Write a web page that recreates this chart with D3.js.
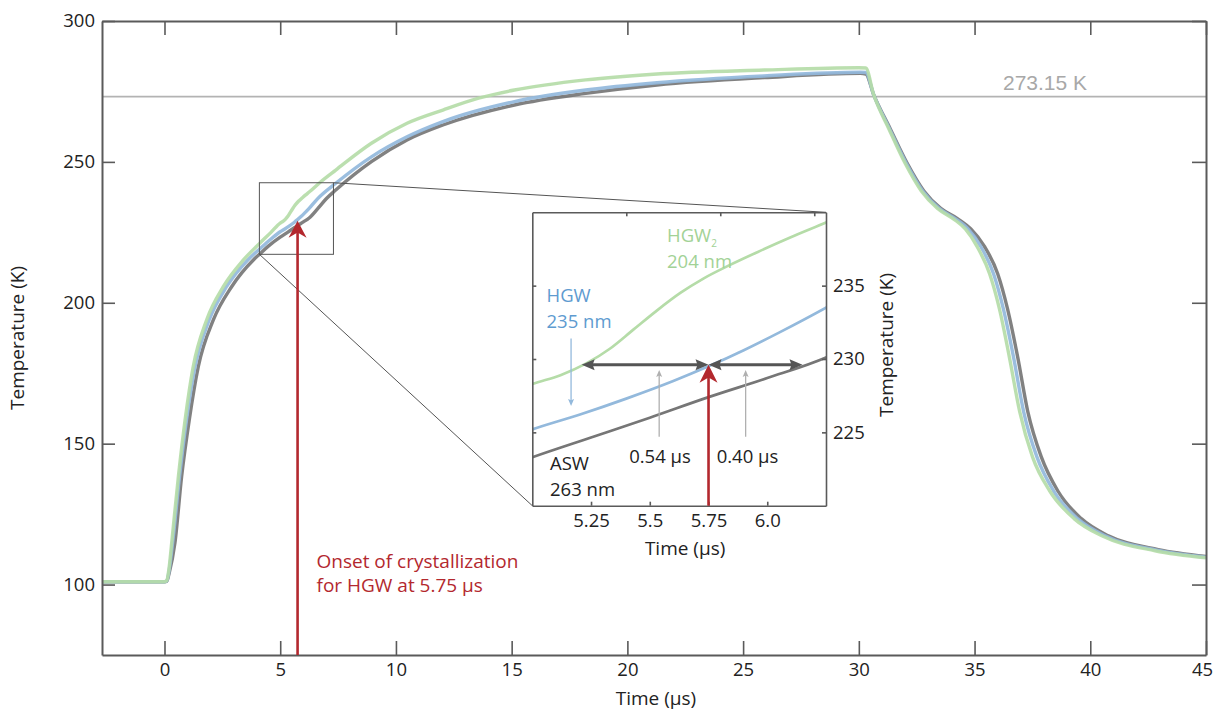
<!DOCTYPE html>
<html><head><meta charset="utf-8">
<script src="https://cdn.jsdelivr.net/npm/d3@7"></script>
<style>
body{margin:0;background:#fff;}
svg{display:block;}
text{font-family:"Open Sans","Noto Sans",sans-serif;}
</style>
</head><body>
<svg id="chart" width="1215" height="713"></svg>
<script>
// ---------------- DATA ----------------
const hgw2Time = [-2.7, 0.0, 0.1, 0.2, 0.31, 0.6, 0.89, 1.24, 1.82, 2.54, 3.41, 4.1, 4.6, 5.0, 5.12, 5.23, 5.33, 5.43, 5.53, 5.63, 5.73, 5.84, 5.96, 6.1, 6.25, 6.73, 7.4, 8.94, 10.48, 12.03, 13.57, 15.12, 18.2, 21.28, 25.9, 30.0, 30.3, 30.64, 31.3, 32.0, 32.7, 33.4, 34.1, 34.6, 35.1, 35.65, 36.07, 36.5, 36.95, 37.5, 38.25, 39.3, 40.5, 42.8, 45];
const hgw2Temp = [101, 101, 101.5, 106, 114.7, 138.3, 158.4, 177.3, 193.9, 205.7, 215.2, 221.0, 225.0, 228.3, 228.9, 229.7, 230.7, 232.0, 233.3, 234.5, 235.5, 236.4, 237.3, 238.3, 239.3, 242.8, 247.1, 256.6, 263.7, 268.4, 272.6, 275.5, 279.1, 281.2, 282.6, 283.4, 283.3, 273.9, 261.7, 249.5, 239.7, 233.5, 229.7, 226.2, 220.1, 210.3, 198.0, 180.9, 161.4, 145.4, 133.2, 123.4, 117.3, 112.0, 109.5];

const hgwTime = [-2.7, 0.0, 0.1, 0.2, 0.35, 0.65, 0.95, 1.32, 1.93, 2.68, 3.6, 4.1, 4.5, 5.0, 5.2, 5.4, 5.6, 5.75, 5.9, 6.05, 6.25, 6.6, 7.4, 8.94, 10.48, 12.03, 15.12, 18.2, 21.28, 25.9, 30.06, 30.3, 30.64, 31.33, 32.05, 32.76, 33.47, 34.18, 34.72, 35.26, 35.82, 36.24, 36.68, 37.12, 37.69, 38.42, 39.45, 40.64, 42.87, 45];
const hgwTemp = [101, 101, 101.3, 105, 114.7, 138.3, 158.4, 177.3, 193.9, 205.7, 215.2, 219.0, 221.9, 225.2, 226.2, 227.3, 228.5, 229.5, 230.6, 231.8, 233.5, 236.8, 242.4, 251.8, 258.9, 264.3, 271.4, 275.5, 278.1, 280.5, 281.8, 281.7, 273.9, 261.7, 249.5, 239.7, 233.5, 229.8, 226.2, 220.1, 210.3, 198.0, 180.9, 161.4, 145.4, 133.2, 123.4, 117.3, 112.2, 109.7];

const aswTime = [-2.7, 0.0, 0.1, 0.2, 0.45, 0.74, 1.07, 1.46, 2.11, 2.9, 3.84, 4.1, 4.5, 5.0, 5.25, 5.5, 5.75, 6.0, 6.25, 6.63, 7.0, 7.4, 8.94, 10.48, 12.03, 15.12, 18.2, 21.28, 25.9, 30.06, 30.3, 30.64, 31.36, 32.09, 32.81, 33.54, 34.26, 34.84, 35.42, 36.0, 36.42, 36.86, 37.3, 37.88, 38.6, 39.61, 40.78, 42.94, 45];
const aswTemp = [101, 101, 101.2, 104, 114.7, 138.3, 158.4, 177.3, 193.9, 205.7, 215.2, 217.2, 220.2, 223.3, 224.65, 226.0, 227.4, 228.7, 230.1, 233.5, 237.0, 240.0, 250.1, 257.8, 263.1, 270.2, 274.3, 277.3, 279.9, 281.4, 281.2, 273.9, 261.7, 249.5, 239.7, 233.5, 229.9, 226.2, 220.1, 210.3, 198.0, 180.9, 161.4, 145.4, 133.2, 123.4, 117.3, 112.4, 110.0];

const seriesNames = ["ASW", "HGW", "HGW2"];
const mainXTicks = [0, 5, 10, 15, 20, 25, 30, 35, 40, 45];
const mainYTicks = [100, 150, 200, 250, 300];
const insetXTicks = [5.25, 5.5, 5.75, 6.0];
const insetXTickLabels = ["5.25", "5.5", "5.75", "6.0"];
const insetTopTicks = [5.4, 5.8, 6.2];
const insetYTicks = [225, 230, 235];
const meltingPoint = 273.15;
const onsetTime = 5.75;
const onsetTemp = 229.5;
const leftSpan = [5.21, 5.75];
const rightSpan = [5.75, 6.15];
const spanTemp = 229.6;
const zoomBox = {t0: 4.1, t1: 7.3, T0: 217.2, T1: 242.6};

// ---------------- SETUP ----------------
const colors = {HGW2: "#b5dca8", HGW: "#93b9dc", ASW: "#767676"};
const textColors = {HGW2: "#a2d296", HGW: "#5e9bd0", ASW: "#222"};
const red = "#b3282e";
const axisColor = "#5a5a5a";
const FONT = '"Open Sans","Noto Sans",sans-serif';
const svg = d3.select("#chart");

const M = {left: 102, right: 1206, top: 21, bottom: 655};
const x = d3.scaleLinear().domain([-2.7, 45]).range([M.left, M.right]);
const y = d3.scaleLinear().domain([75, 300]).range([M.bottom, M.top]);

const I = {left: 532.3, right: 826, top: 212.3, bottom: 505.7};
const ix = d3.scaleLinear().domain([5.0, 6.25]).range([I.left, I.right]);
const iy = d3.scaleLinear().domain([220, 240]).range([I.bottom, I.top]);

const series = {
  HGW2: hgw2Time.map((t, i) => [t, hgw2Temp[i]]),
  HGW: hgwTime.map((t, i) => [t, hgwTemp[i]]),
  ASW: aswTime.map((t, i) => [t, aswTemp[i]])
};

function styleAxis(g, fs) {
  g.selectAll(".domain").attr("stroke", axisColor).attr("stroke-width", 2);
  g.selectAll(".tick line").attr("stroke", axisColor).attr("stroke-width", 1.6);
  g.selectAll(".tick text").attr("fill", "#222").style("font-size", fs + "px").style("font-family", FONT);
}

// melting line
svg.append("line").attr("x1", x(-2.7)).attr("x2", x(45))
  .attr("y1", y(meltingPoint)).attr("y2", y(meltingPoint))
  .attr("stroke", "#b3b3b3").attr("stroke-width", 1.6);
svg.append("text").attr("x", 1045).attr("y", y(meltingPoint) - 6.5)
  .attr("text-anchor", "middle").attr("fill", "#a8a8a8")
  .style("font-family", '"Liberation Sans",Arial,sans-serif').style("font-size", "21px")
  .text("273.15 K");

// main curves
const line = d3.line().x(d => x(d[0])).y(d => y(d[1])).curve(d3.curveMonotoneX);
const drawOrder = ["ASW", "HGW", "HGW2"];
drawOrder.forEach(k => {
  svg.append("path").datum(series[k]).attr("d", line)
    .attr("fill", "none").attr("stroke", colors[k]).attr("stroke-width", 3.4)
    .attr("stroke-linejoin", "round").attr("stroke-opacity", 0.92);
});

// main axes
const gB = svg.append("g").attr("transform", `translate(0,${M.bottom})`)
  .call(d3.axisBottom(x).tickValues(mainXTicks).tickSizeInner(-14).tickSizeOuter(0).tickPadding(8));
styleAxis(gB, 18.5);
gB.selectAll(".tick text").filter(d => d === 45).attr("dx", -4);
const gL = svg.append("g").attr("transform", `translate(${M.left},0)`)
  .call(d3.axisLeft(y).tickValues(mainYTicks).tickSizeInner(-13).tickSizeOuter(0).tickPadding(7));
styleAxis(gL, 18.5);
const gT = svg.append("g").attr("transform", `translate(0,${M.top})`)
  .call(d3.axisTop(x).tickValues(mainXTicks).tickSizeInner(-14).tickSizeOuter(0).tickFormat(""));
styleAxis(gT, 18);
const gR = svg.append("g").attr("transform", `translate(${M.right},0)`)
  .call(d3.axisRight(y).tickValues(mainYTicks).tickSizeInner(-14).tickSizeOuter(0).tickFormat(""));
styleAxis(gR, 18);

svg.append("text").attr("transform", `translate(24,${(M.top + M.bottom) / 2}) rotate(-90)`)
  .attr("text-anchor", "middle").attr("fill", "#222").style("font-size", "19px").text("Temperature (K)");
svg.append("text").attr("x", 656).attr("y", 705).attr("text-anchor", "middle")
  .attr("fill", "#222").style("font-size", "19px").text("Time (µs)");

// zoom box + connectors
svg.append("rect").attr("x", x(zoomBox.t0)).attr("y", y(zoomBox.T1))
  .attr("width", x(zoomBox.t1) - x(zoomBox.t0)).attr("height", y(zoomBox.T0) - y(zoomBox.T1))
  .attr("fill", "none").attr("stroke", "#555").attr("stroke-width", 1);
svg.append("line").attr("x1", x(zoomBox.t1)).attr("y1", y(zoomBox.T1)).attr("x2", I.right).attr("y2", I.top)
  .attr("stroke", "#555").attr("stroke-width", 1);
svg.append("line").attr("x1", x(zoomBox.t0)).attr("y1", y(zoomBox.T0)).attr("x2", I.left).attr("y2", I.bottom)
  .attr("stroke", "#555").attr("stroke-width", 1);

// arrowhead helper (tip at (tx,ty), pointing in direction dir)
function arrowHead(g, tx, ty, dir, len, wid, color, notch) {
  const a = Math.atan2(dir[1], dir[0]);
  const pts = [[0, 0], [-len, -wid / 2], [-len * (1 - notch), 0], [-len, wid / 2]];
  const p = pts.map(([u, v]) => [tx + u * Math.cos(a) - v * Math.sin(a), ty + u * Math.sin(a) + v * Math.cos(a)]);
  g.append("path").attr("d", "M" + p.map(q => q.join(",")).join("L") + "Z").attr("fill", color);
}

// red arrow main
svg.append("line").attr("x1", x(onsetTime)).attr("x2", x(onsetTime))
  .attr("y1", M.bottom).attr("y2", y(onsetTemp) + 8)
  .attr("stroke", red).attr("stroke-width", 2.6);
arrowHead(svg, x(onsetTime), y(onsetTemp) + 1, [0, -1], 17, 18, red, 0.3);

svg.append("text").attr("x", 316.5).attr("y", 568).attr("fill", red).style("font-size", "19px")
  .text("Onset of crystallization");
svg.append("text").attr("x", 316.5).attr("y", 592).attr("fill", red).style("font-size", "19px")
  .text("for HGW at 5.75 µs");

// ---------------- INSET ----------------
const ins = svg.append("g");
ins.append("rect").attr("x", I.left).attr("y", I.top).attr("width", I.right - I.left)
  .attr("height", I.bottom - I.top).attr("fill", "#fff");
svg.append("defs").append("clipPath").attr("id", "insetClip").append("rect")
  .attr("x", I.left).attr("y", I.top).attr("width", I.right - I.left).attr("height", I.bottom - I.top);

const iline = d3.line().x(d => ix(d[0])).y(d => iy(d[1])).curve(d3.curveMonotoneX);
const ic = ins.append("g").attr("clip-path", "url(#insetClip)");
drawOrder.forEach(k => {
  ic.append("path").datum(series[k].filter(d => d[0] >= 4.0 && d[0] <= 7.5)).attr("d", iline)
    .attr("fill", "none").attr("stroke", colors[k]).attr("stroke-width", 2.7);
});

// inset axes
const iB = ins.append("g").attr("transform", `translate(0,${I.bottom})`)
  .call(d3.axisBottom(ix).tickValues(insetXTicks).tickFormat((d, i) => insetXTickLabels[i])
    .tickSizeInner(-4).tickSizeOuter(0).tickPadding(8));
styleAxis(iB, 18.5);
const iT = ins.append("g").attr("transform", `translate(0,${I.top})`)
  .call(d3.axisTop(ix).tickValues(insetTopTicks).tickSizeInner(-4).tickSizeOuter(0).tickFormat(""));
styleAxis(iT, 17);
const iL = ins.append("g").attr("transform", `translate(${I.left},0)`)
  .call(d3.axisLeft(iy).tickValues(insetYTicks).tickSizeInner(-4).tickSizeOuter(0).tickFormat(""));
styleAxis(iL, 17);
const iR = ins.append("g").attr("transform", `translate(${I.right},0)`)
  .call(d3.axisRight(iy).tickValues(insetYTicks).tickSizeInner(-4).tickSizeOuter(0).tickPadding(7));
styleAxis(iR, 18.5);
[iB, iT, iL, iR].forEach(g => g.selectAll(".domain").attr("stroke-width", 1.6));

ins.append("text").attr("x", (I.left + I.right) / 2 + 6).attr("y", 555).attr("text-anchor", "middle")
  .attr("fill", "#222").style("font-size", "19px").text("Time (µs)");
ins.append("text").attr("transform", `translate(893,345) rotate(-90)`).attr("text-anchor", "middle")
  .attr("fill", "#222").style("font-size", "19px").text("Temperature (K)");

// double arrows
const darkArrow = "#555";
[leftSpan, rightSpan].forEach(sp => {
  const x0 = ix(sp[0]), x1 = ix(sp[1]), yy = iy(spanTemp);
  ins.append("line").attr("x1", x0 + 8).attr("x2", x1 - 8).attr("y1", yy).attr("y2", yy)
    .attr("stroke", darkArrow).attr("stroke-width", 3);
  arrowHead(ins, x0, yy, [-1, 0], 13, 11, darkArrow, 0.15);
  arrowHead(ins, x1, yy, [1, 0], 13, 11, darkArrow, 0.15);
});

// red arrow inset
ins.append("line").attr("x1", ix(onsetTime)).attr("x2", ix(onsetTime))
  .attr("y1", I.bottom).attr("y2", iy(spanTemp) + 12)
  .attr("stroke", red).attr("stroke-width", 2.6);
arrowHead(ins, ix(onsetTime), iy(spanTemp), [0, -1], 18, 18, red, 0.3);

// grey pointer arrows
const pointerTimes = [5.54, 5.908];
pointerTimes.forEach(t => {
  ins.append("line").attr("x1", ix(t)).attr("x2", ix(t)).attr("y1", iy(224.7)).attr("y2", iy(229.25) + 5)
    .attr("stroke", "#b0b0b0").attr("stroke-width", 1.3);
  arrowHead(ins, ix(t), iy(229.25), [0, -1], 7, 6, "#b0b0b0", 0.2);
});
// blue pointer
ins.append("line").attr("x1", ix(5.165)).attr("x2", ix(5.165)).attr("y1", iy(231.4)).attr("y2", iy(226.8) - 5)
  .attr("stroke", colors.HGW).attr("stroke-width", 1.3);
arrowHead(ins, ix(5.165), iy(226.8), [0, 1], 7, 6, colors.HGW, 0.2);

// inset labels
const lfs = "18.5px";
const g2 = ins.append("text").attr("x", 667).attr("y", 241.7).attr("fill", textColors.HGW2).style("font-size", lfs);
g2.append("tspan").text("HGW");
g2.append("tspan").attr("dy", 5).style("font-size", "10px").text("2");
ins.append("text").attr("x", 667).attr("y", 267.7).attr("fill", textColors.HGW2).style("font-size", lfs).text("204 nm");
ins.append("text").attr("x", 546.5).attr("y", 301.7).attr("fill", textColors.HGW).style("font-size", lfs).text("HGW");
ins.append("text").attr("x", 546.5).attr("y", 328).attr("fill", textColors.HGW).style("font-size", lfs).text("235 nm");
ins.append("text").attr("x", 550).attr("y", 470).attr("fill", textColors.ASW).style("font-size", lfs).text("ASW");
ins.append("text").attr("x", 550).attr("y", 496).attr("fill", textColors.ASW).style("font-size", lfs).text("263 nm");
ins.append("text").attr("x", 660).attr("y", 462.7).attr("text-anchor", "middle").attr("fill", "#222").style("font-size", lfs).text("0.54 µs");
ins.append("text").attr("x", 747.5).attr("y", 462.7).attr("text-anchor", "middle").attr("fill", "#222").style("font-size", lfs).text("0.40 µs");
</script>
</body></html>
